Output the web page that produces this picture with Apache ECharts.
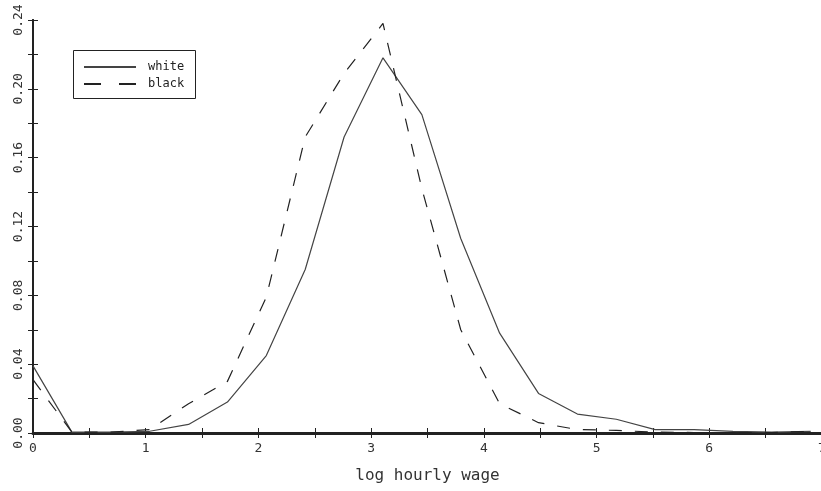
<!DOCTYPE html>
<html>
<head>
<meta charset="utf-8">
<script src="https://cdn.jsdelivr.net/npm/echarts@6/dist/echarts.min.js"></script>
<style>
  html, body { margin: 0; padding: 0; background: #fff; }
  #chart { width: 821px; height: 491px; }
</style>
</head>
<body>
<div id="chart"></div>
<script>
// log hourly wage bins
var xs = [0, 0.345, 0.69, 1.035, 1.38, 1.725, 2.07, 2.415, 2.76, 3.105, 3.45,
          3.795, 4.14, 4.485, 4.83, 5.175, 5.52, 5.865, 6.21, 6.555, 6.9];
var white = [0.039, 0.0005, 0.0005, 0.001, 0.005, 0.018, 0.045, 0.095, 0.172, 0.218, 0.185,
             0.113, 0.058, 0.023, 0.011, 0.008, 0.002, 0.002, 0.001, 0.0005, 0.001];
var black = [0.031, 0.0005, 0.0005, 0.002, 0.017, 0.030, 0.079, 0.172, 0.209, 0.238, 0.142,
             0.060, 0.017, 0.006, 0.002, 0.0015, 0.0005, 0.0003, 0.0003, 0.0003, 0.001];
var xTicks = [0, 1, 2, 3, 4, 5, 6, 7];
var yTicks = [0, 0.04, 0.08, 0.12, 0.16, 0.20, 0.24];

var font = 'DejaVu Sans Mono';
var ink = '#222';

function pairs(vals) {
  return xs.map(function (x, i) { return [x, vals[i]]; });
}

var myChart = echarts.init(document.getElementById('chart'));

// ticks every half step, labels only on the listed ticks
var tick = { show: true, inside: true, length: 5, lineStyle: { color: ink, width: 1 } };

function xLabel(v) {
  return xTicks.indexOf(Math.round(v * 100) / 100) >= 0 ? String(v) : '';
}
function yLabel(v) {
  var r = Math.round(v * 100) / 100;
  return yTicks.indexOf(r) >= 0 ? r.toFixed(2) : '';
}

option = {
  animation: false,
  backgroundColor: '#fff',
  grid: { left: 33, top: 20, width: 789, height: 413, outerBoundsMode: 'none', containLabel: false },
  legend: {
    orient: 'vertical',
    left: 78,
    top: 56,
    padding: 5,
    itemWidth: 52,
    itemHeight: 10,
    itemGap: 5,
    itemStyle: { color: 'transparent', borderWidth: 0, opacity: 0 },
    textStyle: { fontFamily: font, fontSize: 12, color: ink, padding: [0, 0, 0, 7] },
    data: [
      { name: 'white' },
      { name: 'black', lineStyle: { type: [17, 18] } }
    ]
  },
  graphic: [{
    type: 'rect',
    shape: { x: 73.5, y: 50.5, width: 122, height: 48 },
    style: { fill: 'none', stroke: ink, lineWidth: 1 }
  }],
  xAxis: [{
    type: 'value',
    position: 'bottom',
    min: 0,
    max: 7,
    interval: 0.5,
    name: 'log hourly wage',
    nameLocation: 'middle',
    nameGap: 35,
    nameTextStyle: { fontFamily: font, fontSize: 16, color: '#333' },
    axisLine: { show: true, lineStyle: { color: ink, width: 3 } },
    axisTick: tick,
    splitLine: { show: false },
    axisLabel: { fontFamily: font, fontSize: 13, color: '#333', margin: 9, formatter: xLabel }
  }, {
    type: 'value',
    position: 'top',
    min: 0,
    max: 7,
    interval: 0.5,
    axisLine: { show: true, lineStyle: { color: ink, width: 2 } },
    axisTick: tick,
    splitLine: { show: false },
    axisLabel: { show: false }
  }],
  yAxis: [{
    type: 'value',
    position: 'left',
    min: 0,
    max: 0.24,
    interval: 0.02,
    axisLine: { show: true, lineStyle: { color: ink, width: 2 } },
    axisTick: tick,
    splitLine: { show: false },
    axisLabel: {
      rotate: 90,
      margin: 8,
      fontFamily: font,
      fontSize: 13,
      color: '#333',
      formatter: yLabel
    }
  }, {
    type: 'value',
    position: 'right',
    min: 0,
    max: 0.24,
    interval: 0.02,
    axisLine: { show: true, lineStyle: { color: ink, width: 2 } },
    axisTick: tick,
    splitLine: { show: false },
    axisLabel: { show: false }
  }],
  series: [{
    name: 'white',
    type: 'line',
    data: pairs(white),
    symbol: 'none',
    lineStyle: { color: '#444', width: 1.2, type: 'solid' },
    itemStyle: { color: '#444' }
  }, {
    name: 'black',
    type: 'line',
    data: pairs(black),
    symbol: 'none',
    lineStyle: { color: '#222', width: 1.2, type: [13, 13] },
    itemStyle: { color: '#222' }
  }]
};

if (option && typeof option === "object") {
  myChart.setOption(option, true);
}
</script>
</body>
</html>
